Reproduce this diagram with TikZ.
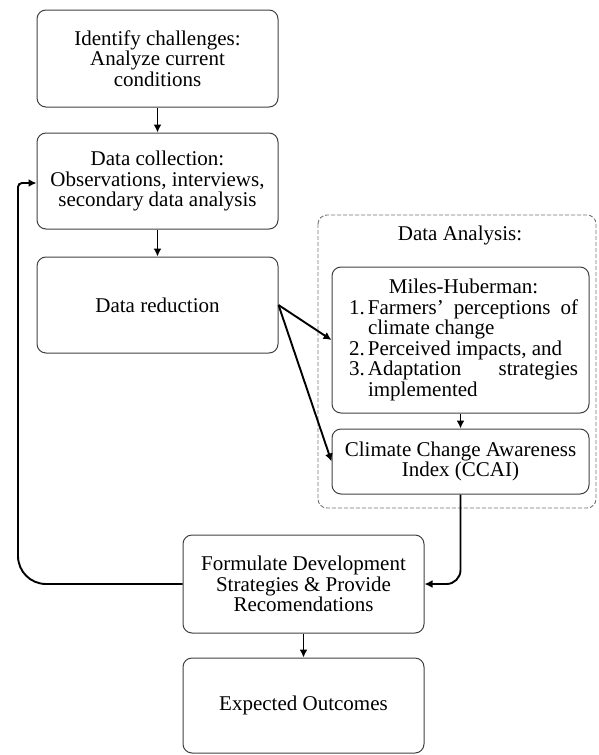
\documentclass[tikz,border=0pt]{standalone}
\usepackage{fontspec}
\setmainfont{Liberation Serif}
\usetikzlibrary{arrows.meta}
\begin{document}
\begin{tikzpicture}[x=1pt,y=-1pt,
  box/.style={draw=black!75,line width=1pt,rounded corners=9pt,align=center,
    font=\fontsize{21}{20.5}\selectfont,inner sep=1pt},
  arr/.style={line width=1.9pt,-{Latex[length=8pt,width=8pt]}}]
\useasboundingbox (0,0) rectangle (598,755);
\node[box,minimum width=241pt,minimum height=97pt] (b1) at (157.5,58.5) {Identify challenges:\\Analyze current\\conditions};
\node[box,minimum width=241pt,minimum height=96pt] (b2) at (157.5,181) {Data collection:\\Observations, interviews,\\secondary data analysis};
\node[box,minimum width=241pt,minimum height=96pt] (b3) at (157.5,305) {Data reduction};
\draw[draw=black!55,dash pattern=on 4pt off 2pt,line width=0.9pt,rounded corners=9pt] (318,215) rectangle (596,508);
\node[font=\fontsize{21}{20.5}\selectfont] (da) at (460,235) {Data Analysis:};
\node[box,minimum width=257pt,minimum height=146pt] (mh) at (460.5,340) {%
\hspace*{6pt}\begin{minipage}{229pt}\setlength{\parindent}{0pt}\hyphenpenalty=10000 \exhyphenpenalty=10000
\centering Miles-Huberman:\par
\leftskip=0pt \rightskip=0pt \parfillskip=0pt plus 1fil
\hangindent=19pt\hangafter=1 \makebox[19pt][l]{1.}Farmers' perceptions of climate change\par
\hangindent=19pt\hangafter=1 \makebox[19pt][l]{2.}Perceived impacts, and\par
\hangindent=19pt\hangafter=1 \makebox[19pt][l]{3.}Adaptation strategies implemented\par
\end{minipage}};
\node[box,minimum width=257pt,minimum height=65pt] (cc) at (460.5,461.5) {Climate Change Awareness\\Index (CCAI)};
\node[box,minimum width=241pt,minimum height=98pt] (fd) at (303.5,584) {Formulate Development\\Strategies \& Provide\\Recomendations};
\node[box,minimum width=241pt,minimum height=95pt] (eo) at (303.5,705.5) {Expected Outcomes};
\coordinate (fl) at (18,584);
\coordinate (ft) at (18,183);
\draw[arr] (b1) -- (b2);
\draw[arr] (b2) -- (b3);
\draw[arr] (b3.east) -- (mh.west);
\draw[arr] (b3.east) -- (cc.west);
\draw[arr] (mh) -- (cc);
\draw[arr,rounded corners=14pt] (cc.south) |- (fd.east);
\draw[arr] (fd.west) [rounded corners=28pt] -- (fl) [rounded corners=4pt] -- (ft) [sharp corners] -- (ft -| b2.west);
\draw[arr] (fd) -- (eo);
\end{tikzpicture}
\end{document}
